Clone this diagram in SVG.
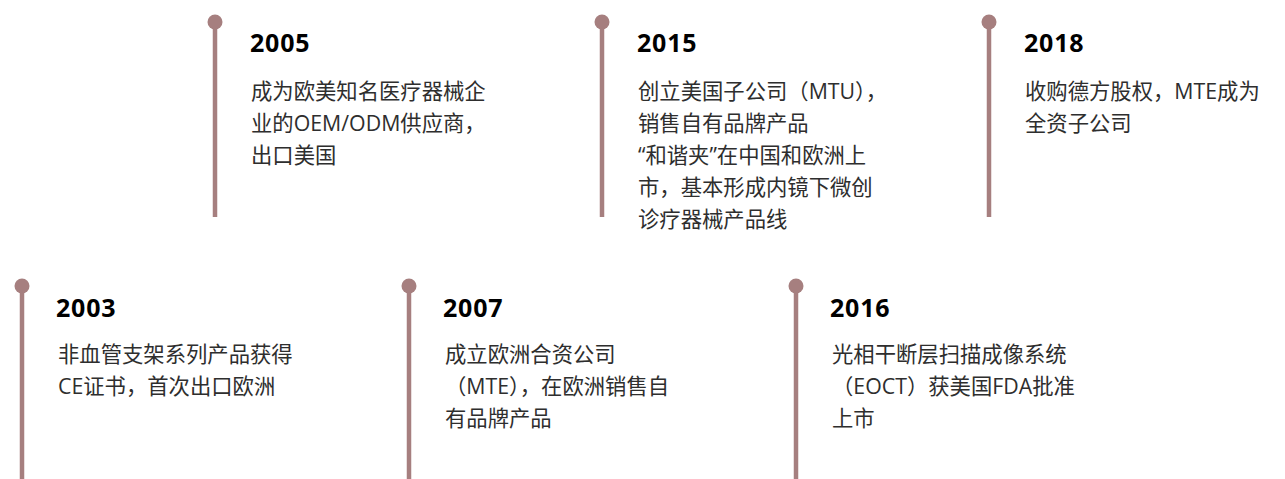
<svg xmlns="http://www.w3.org/2000/svg" width="1285" height="479" viewBox="0 0 1285 479">
<style>
.stem{stroke:#a67f7f;stroke-width:4.5;fill:none}
.dot{fill:#a67f7f}
.yr{font-family:"Open Sans","Liberation Sans",sans-serif;font-weight:700;font-size:25px;letter-spacing:0.8px;fill:#000}
.tx{font-family:"Open Sans","Noto Sans CJK SC",sans-serif;font-size:21.33px;fill:#2e2e2e}
</style>
<rect width="1285" height="479" fill="#fff"/>
<g id="n2005">
<line class="stem" x1="215" y1="22" x2="215" y2="217"/>
<circle class="dot" cx="215" cy="22" r="7.5"/>
<text class="yr" x="250" y="52">2005</text>
<text class="tx" x="251" y="99">成为欧美知名医疗器械企</text>
<text class="tx" x="251" y="131">业的OEM/ODM供应商，</text>
<text class="tx" x="251" y="163">出口美国</text>
</g>
<g id="n2015">
<line class="stem" x1="602" y1="22" x2="602" y2="217"/>
<circle class="dot" cx="602" cy="22" r="7.5"/>
<text class="yr" x="637" y="52">2015</text>
<text class="tx" x="638" y="99">创立美国子公司（MTU），</text>
<text class="tx" x="638" y="131">销售自有品牌产品</text>
<text class="tx" x="638" y="163">“和谐夹”在中国和欧洲上</text>
<text class="tx" x="638" y="195">市，基本形成内镜下微创</text>
<text class="tx" x="638" y="227">诊疗器械产品线</text>
</g>
<g id="n2018">
<line class="stem" x1="989" y1="22" x2="989" y2="217"/>
<circle class="dot" cx="989" cy="22" r="7.5"/>
<text class="yr" x="1024" y="52">2018</text>
<text class="tx" x="1025" y="99">收购德方股权，MTE成为</text>
<text class="tx" x="1025" y="131">全资子公司</text>
</g>
<g id="n2003">
<line class="stem" x1="22" y1="286" x2="22" y2="479"/>
<circle class="dot" cx="22" cy="286" r="7.5"/>
<text class="yr" x="56" y="317">2003</text>
<text class="tx" x="58" y="362">非血管支架系列产品获得</text>
<text class="tx" x="58" y="394">CE证书，首次出口欧洲</text>
</g>
<g id="n2007">
<line class="stem" x1="409" y1="286" x2="409" y2="479"/>
<circle class="dot" cx="409" cy="286" r="7.5"/>
<text class="yr" x="443" y="317">2007</text>
<text class="tx" x="445" y="362">成立欧洲合资公司</text>
<text class="tx" x="445" y="394">（MTE），在欧洲销售自</text>
<text class="tx" x="445" y="426">有品牌产品</text>
</g>
<g id="n2016">
<line class="stem" x1="796" y1="286" x2="796" y2="479"/>
<circle class="dot" cx="796" cy="286" r="7.5"/>
<text class="yr" x="830" y="317">2016</text>
<text class="tx" x="832" y="362">光相干断层扫描成像系统</text>
<text class="tx" x="832" y="394">（EOCT）获美国FDA批准</text>
<text class="tx" x="832" y="426">上市</text>
</g>
<g id="connectors"/>
</svg>
